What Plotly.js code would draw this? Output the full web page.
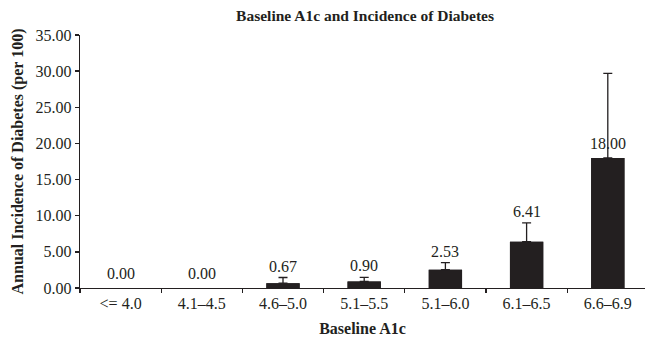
<!DOCTYPE html>
<html>
<head>
<meta charset="utf-8">
<script src="https://cdn.plot.ly/plotly-3.0.1.min.js"></script>
<style>html,body{margin:0;padding:0;background:#fff}#chart{width:645px;height:339px}</style>
</head>
<body>
<div id="chart"></div>
<script>
const categories = ["<= 4.0", "4.1–4.5", "4.6–5.0", "5.1–5.5", "5.1–6.0", "6.1–6.5", "6.6–6.9"];
const incidence = [0.00, 0.00, 0.67, 0.90, 2.53, 6.41, 18.00];
const errorPlus = [null, null, 0.78, 0.56, 0.99, 2.59, 11.7];
const yTicks = [0, 5, 10, 15, 20, 25, 30, 35];

const FONT = "'Liberation Serif', 'Times New Roman', Times, serif";
const INK = "#231f20";

const idx = categories.map((c, i) => i).filter(i => errorPlus[i] !== null);

const bars = {
  type: "bar",
  x: categories,
  y: incidence,
  width: 0.41,
  marker: {color: INK, line: {width: 0}},
  hoverinfo: "skip"
};

const barsWithError = {
  type: "bar",
  x: idx.map(i => categories[i]),
  y: idx.map(i => incidence[i]),
  width: 0.41,
  marker: {color: INK, line: {width: 0}},
  error_y: {type: "data", symmetric: false,
            array: idx.map(i => errorPlus[i]),
            arrayminus: idx.map(() => 0),
            color: INK, thickness: 1.3, width: 4.5, visible: true},
  hoverinfo: "skip"
};

const annotations = categories.map((c, i) => {
  const e = errorPlus[i];
  const hasCap = e !== null && e > 0 && e < 5;
  return {
    x: c, y: hasCap ? incidence[i] + e : incidence[i],
    xref: "x", yref: "y",
    text: incidence[i].toFixed(2),
    showarrow: false, yanchor: "bottom",
    yshift: hasCap ? 1 : 4,
    font: {family: FONT, size: 16, color: INK}
  };
});

const layout = {
  width: 645, height: 339,
  margin: {l: 80, r: 0, t: 35, b: 51, pad: 0},
  paper_bgcolor: "#ffffff", plot_bgcolor: "#ffffff",
  showlegend: false,
  barmode: "overlay",
  font: {family: FONT, color: INK},
  title: {text: "<b>Baseline A1c and Incidence of Diabetes</b>", x: 0.566, xref: "container", xanchor: "center",
          y: 1 - 16/339, yref: "container", yanchor: "middle",
          font: {family: FONT, size: 15.5, color: INK}},
  xaxis: {
    type: "category",
    categoryorder: "array", categoryarray: categories,
    range: [-0.5, -0.5 + 565/81.2],
    showline: true, linecolor: INK, linewidth: 1.3,
    ticks: "outside", tickson: "boundaries", ticklen: 4, tickcolor: INK, tickwidth: 1.3,
    showgrid: false, zeroline: false,
    tickfont: {family: FONT, size: 16, color: INK},
    title: {text: "<b>Baseline A1c</b>", standoff: 12, font: {family: FONT, size: 16, color: INK}}
  },
  yaxis: {
    range: [0, 35], tickvals: yTicks, ticktext: yTicks.map(v => v.toFixed(2)),
    showline: true, linecolor: INK, linewidth: 1.3,
    ticks: "outside", ticklen: 4, tickcolor: INK, tickwidth: 1.3,
    showgrid: false, zeroline: false,
    tickfont: {family: FONT, size: 16, color: INK},
    title: {text: "<b>Annual Incidence of Diabetes (per 100)</b>", standoff: 8, font: {family: FONT, size: 16, color: INK}}
  },
  annotations: annotations
};

Plotly.newPlot("chart", [bars, barsWithError], layout, {displayModeBar: false, staticPlot: true});
</script>
</body>
</html>
